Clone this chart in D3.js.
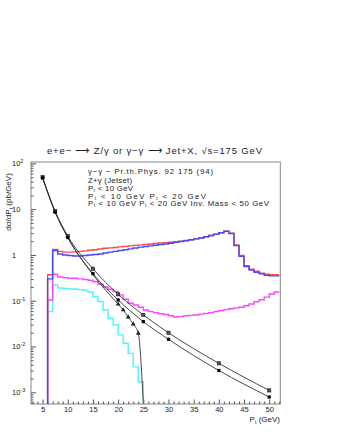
<!DOCTYPE html>
<html lang="en">
<head>
<meta charset="UTF-8" />
<title>Jet+X, sqrt(s)=175 GeV</title>
<style>
  body { margin: 0; background: #fff; }
  svg text { font-family: "Liberation Sans", Arial, sans-serif; fill: #222; }
  .tick line { stroke: #555; }
</style>
<script src="https://d3js.org/d3.v7.min.js"></script>
</head>
<body>
<svg id="chart" width="337" height="436"></svg>
<script>
// gamma-gamma theory curves (Pr.th.Phys. 92 175)
const ptTheory = [5, 7.5, 10, 15, 20, 25, 30, 40, 50];
const ggUpper = [50, 9.0, 2.6, 0.50, 0.138, 0.049, 0.020, 0.0043, 0.0011];
const ggLower = [48, 8.6, 2.4, 0.39, 0.104, 0.035, 0.0144, 0.0030, 0.00079];
const ptCutoff = [5, 7.5, 10, 15, 20, 21, 22, 23, 24, 25];
const ggCutoff = [48, 8.6, 2.4, 0.37, 0.084, 0.063, 0.044, 0.031, 0.0195, 0.00056];

// histograms, 1 GeV bins from 6 GeV
const binStart = 6;
const zJetset = [0.37, 1.32, 1.2, 1.15, 1.15, 1.17, 1.2, 1.23, 1.27, 1.3,
  1.35, 1.4, 1.43, 1.46, 1.5, 1.54, 1.58, 1.62, 1.66, 1.7,
  1.74, 1.78, 1.82, 1.86, 1.9, 1.95, 2.0, 2.07, 2.15, 2.25,
  2.35, 2.5, 2.65, 2.85, 3.05, 3.3, 2.97, 1.65, 0.97, 0.58,
  0.49, 0.44, 0.4, 0.38, 0.37, 0.37];
const ptCut10 = [0.3, 1.25, 1.05, 1.0, 0.97, 0.95, 0.95, 0.97, 1.0, 1.02,
  1.05, 1.1, 1.15, 1.2, 1.25, 1.3, 1.36, 1.42, 1.48, 1.53,
  1.58, 1.63, 1.68, 1.73, 1.8, 1.88, 1.97, 2.05, 2.15, 2.25,
  2.35, 2.5, 2.65, 2.85, 3.05, 3.3, 2.95, 1.6, 0.93, 0.56,
  0.47, 0.42, 0.39, 0.36, 0.35, 0.35];
const ptCut10and20 = [0.104, 0.38, 0.33, 0.32, 0.31, 0.31, 0.30, 0.29, 0.28, 0.26,
  0.23, 0.20, 0.178, 0.158, 0.134, 0.108, 0.088, 0.081, 0.072, 0.063,
  0.058, 0.055, 0.052, 0.05, 0.047, 0.044, 0.045, 0.047, 0.048, 0.049,
  0.051, 0.053, 0.055, 0.058, 0.061, 0.064, 0.067, 0.07, 0.072, 0.078,
  0.085, 0.095, 0.105, 0.12, 0.14, 0.155];
const ptCutMass = [0.058, 0.22, 0.19, 0.185, 0.18, 0.18, 0.175, 0.17, 0.155, 0.123,
  0.096, 0.063, 0.041, 0.03, 0.018, 0.0118, 0.0071, 0.0036, 0.0017];

const xTicks = [5, 10, 15, 20, 25, 30, 35, 40, 45, 50];
const yDecades = [1e-3, 1e-2, 1e-1, 1, 10, 100];
const yTickLabels = [["10", "-3"], ["10", "-2"], ["10", "-1"], ["1", ""], ["10", ""], ["10", "2"]];

const svg = d3.select("#chart");

const x = d3.scaleLinear().domain([2.7, 52.2]).range([31, 280.3]);
const y = d3.scaleLog().domain([Math.pow(10, -3.255), Math.pow(10, 2.03)]).range([404, 162]);
const yBottom = y.range()[0];

// title
svg.append("text")
  .attr("x", 47).attr("y", 153.5)
  .attr("textLength", 215)
  .attr("lengthAdjust", "spacing")
  .style("font-size", "9.5px")
  .text("e+e\u2212 \u27f6 Z/\u03b3 or \u03b3\u2212\u03b3 \u27f6 Jet+X, \u221as=175 GeV");

// frame
svg.append("rect")
  .attr("x", x.range()[0]).attr("y", y.range()[1])
  .attr("width", x.range()[1] - x.range()[0])
  .attr("height", y.range()[0] - y.range()[1])
  .attr("fill", "none").attr("stroke", "#888").attr("stroke-width", 1);

// x axis, ticks pointing inside
const minorX = d3.range(3, 53).filter(v => v % 5 !== 0);
svg.append("g")
  .attr("transform", `translate(0,${yBottom})`)
  .call(d3.axisBottom(x).tickValues(minorX).tickSize(-2.5).tickFormat(""))
  .call(g => g.select(".domain").remove());
svg.append("g")
  .attr("transform", `translate(0,${yBottom})`)
  .call(d3.axisBottom(x).tickValues(xTicks).tickSize(-4.5).tickPadding(3))
  .call(g => g.select(".domain").remove())
  .call(g => g.selectAll("text").style("font-size", "7.5px").attr("font-family", null));

// y axis, log
const minorY = y.ticks().filter(v => !yDecades.some(d => Math.abs(d - v) / d < 1e-6));
svg.append("g")
  .attr("transform", `translate(${x.range()[0]},0)`)
  .call(d3.axisLeft(y).tickValues(minorY).tickSize(-2.5).tickFormat(""))
  .call(g => g.select(".domain").remove());
svg.append("g")
  .attr("transform", `translate(${x.range()[0]},0)`)
  .call(d3.axisLeft(y).tickValues(yDecades).tickSize(-5).tickFormat(""))
  .call(g => g.select(".domain").remove());

yDecades.forEach((d, i) => {
  const t = svg.append("text")
    .attr("x", 12).attr("y", y(d) + 2.8)
    .style("font-size", "7.5px");
  t.append("tspan").text(yTickLabels[i][0]);
  if (yTickLabels[i][1]) {
    t.append("tspan").attr("dy", -3).style("font-size", "5.5px").text(yTickLabels[i][1]);
  }
});

// axis titles
const yl = svg.append("text")
  .attr("transform", "translate(11,202) rotate(-90)")
  .attr("text-anchor", "middle")
  .style("font-size", "8px");
yl.append("tspan").text("d\u03c3/dP");
yl.append("tspan").attr("dy", 1.5).style("font-size", "5.5px").text("t");
yl.append("tspan").attr("dy", -1.5).text(" (pb/GeV)");

const xl = svg.append("text")
  .attr("x", 280).attr("y", 422)
  .attr("text-anchor", "end")
  .style("font-size", "8px");
xl.append("tspan").text("P");
xl.append("tspan").attr("dy", 1.5).style("font-size", "5.5px").text("t");
xl.append("tspan").attr("dy", -1.5).text(" (GeV)");

// histograms as step lines
function stepPoints(vals, dropAtEnd) {
  const pts = [[x(binStart), yBottom]];
  vals.forEach((v, i) => {
    pts.push([x(binStart + i), y(v)]);
    pts.push([x(binStart + i + 1), y(v)]);
  });
  if (dropAtEnd) pts.push([x(binStart + vals.length), yBottom]);
  return pts;
}
const line = d3.line();
const histos = [
  { vals: ptCutMass, color: "#4ff4ff", drop: true },
  { vals: ptCut10and20, color: "#ff45ff", drop: false },
  { vals: zJetset, color: "#ff4a4a", drop: false },
  { vals: ptCut10, color: "#4848ff", drop: false }
];
histos.forEach(h => {
  svg.append("path")
    .attr("d", line(stepPoints(h.vals, h.drop)))
    .attr("fill", "none")
    .attr("stroke", h.color)
    .attr("stroke-width", 1.4)
    .attr("stroke-linejoin", "miter");
});

// theory curves
const smooth = d3.line().x(d => x(d[0])).y(d => y(d[1])).curve(d3.curveMonotoneX);
const curves = [
  { pts: ptTheory.map((p, i) => [p, ggUpper[i]]) },
  { pts: ptTheory.map((p, i) => [p, ggLower[i]]) },
  { pts: ptCutoff.map((p, i) => [p, ggCutoff[i]]) }
];
curves.forEach(c => {
  svg.append("path")
    .attr("d", smooth(c.pts))
    .attr("fill", "none")
    .attr("stroke", "#333")
    .attr("stroke-width", 0.9);
});

// markers
svg.selectAll(".sqUp")
  .data(curves[0].pts)
  .enter().append("rect")
  .attr("x", d => x(d[0]) - 1.6).attr("y", d => y(d[1]) - 1.6)
  .attr("width", 3.2).attr("height", 3.2)
  .attr("fill", "#555").attr("stroke", "#111").attr("stroke-width", 0.6);
svg.selectAll(".sqLow")
  .data(curves[1].pts)
  .enter().append("rect")
  .attr("x", d => x(d[0]) - 1.6).attr("y", d => y(d[1]) - 1.6)
  .attr("width", 3.2).attr("height", 3.2)
  .attr("fill", "#000");
const tri = d3.symbol().type(d3.symbolTriangle).size(10);
svg.selectAll(".tri")
  .data(curves[2].pts.filter((d, i, a) => d[0] >= 20 && i < a.length - 1))
  .enter().append("path")
  .attr("d", tri)
  .attr("transform", d => `translate(${x(d[0])},${y(d[1])})`)
  .attr("fill", "#222");

// legend text
const legendX = 88;
function legendLine(yb, len, parts) {
  const t = svg.append("text").attr("x", legendX).attr("y", yb)
    .attr("textLength", len).attr("lengthAdjust", "spacing")
    .style("font-size", "7.8px");
  parts.forEach(p => {
    if (p.sub) {
      t.append("tspan").attr("dy", 1).style("font-size", "4.8px").text(p.sub);
      t.append("tspan").attr("dy", -1).text(p.after || "");
    } else {
      t.append("tspan").text(p.text);
    }
  });
}
legendLine(174, 125, [{ text: "\u03b3\u2212\u03b3 \u2212 Pr.th.Phys. 92 175 (94)" }]);
legendLine(182.5, 44, [{ text: "Z+\u03b3 (Jetset)" }]);
legendLine(191, 45, [{ text: "P" }, { sub: "t", after: " < 10 GeV" }]);
legendLine(198.5, 118, [{ text: "P" }, { sub: "t", after: " < 10 GeV  P" }, { sub: "t", after: " < 20 GeV" }]);
legendLine(206, 181, [{ text: "P" }, { sub: "t", after: " < 10 GeV  P" }, { sub: "t", after: " < 20 GeV Inv. Mass < 50 GeV" }]);
</script>
</body>
</html>
